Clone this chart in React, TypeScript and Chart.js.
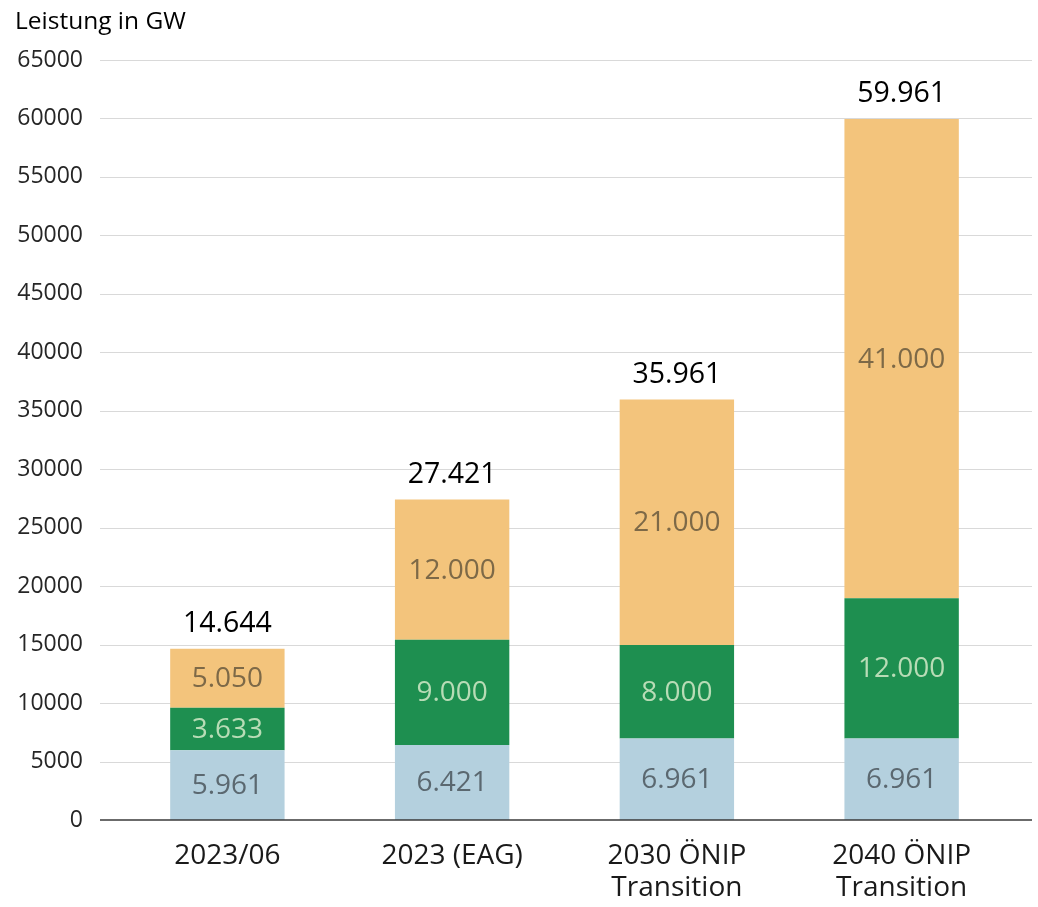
import React, { useEffect, useRef } from "react";
import { Chart, registerables } from "chart.js";

Chart.register(...registerables);

const categories: (string | string[])[] = [
  "2023/06",
  "2023 (EAG)",
  ["2030 ÖNIP", "Transition"],
  ["2040 ÖNIP", "Transition"],
];
const seriesBlue = [5961, 6421, 6961, 6961];
const seriesGreen = [3633, 9000, 8000, 12000];
const seriesOrange = [5050, 12000, 21000, 41000];
const yMin = 0;
const yMax = 65000;
const yStep = 5000;
const titleText = "Leistung in GW";

const FONT = "'Open Sans', 'Noto Sans', sans-serif";

const fmt = (n: number) =>
  String(Math.round(n)).replace(/\B(?=(\d{3})+(?!\d))/g, ".");

const gridPlugin = {
  id: "extGrid",
  beforeDatasetsDraw(chart: any) {
    const { ctx, chartArea } = chart;
    const y = chart.scales.y;
    ctx.save();
    y.ticks.forEach((t: any) => {
      const py = Math.round(y.getPixelForValue(t.value)) + 0.5;
      if (t.value === 0) return;
      ctx.strokeStyle = "#d9d9d9";
      ctx.lineWidth = 1;
      ctx.beginPath();
      ctx.moveTo(chartArea.left - 15, py);
      ctx.lineTo(chartArea.right + 18, py);
      ctx.stroke();
    });
    ctx.restore();
  },
  afterDatasetsDraw(chart: any) {
    const { ctx, chartArea } = chart;
    const y = chart.scales.y;
    const py = y.getPixelForValue(0);
    ctx.save();
    ctx.strokeStyle = "#3a3a3a";
    ctx.lineWidth = 1.5;
    ctx.beginPath();
    ctx.moveTo(chartArea.left - 15, py);
    ctx.lineTo(chartArea.right + 18, py);
    ctx.stroke();
    ctx.restore();
  },
};

const labelColors = ["#5b6870", "#b8dcb6", "#7d6947"];

const labelPlugin = {
  id: "segLabels",
  afterDatasetsDraw(chart: any) {
    const { ctx } = chart;
    ctx.save();
    ctx.textAlign = "center";
    ctx.textBaseline = "middle";
    const n = chart.data.datasets.length;
    chart.data.datasets.forEach((ds: any, di: number) => {
      const meta = chart.getDatasetMeta(di);
      ctx.font = `28px ${FONT}`;
      ctx.fillStyle = labelColors[di];
      meta.data.forEach((bar: any, i: number) => {
        const p = bar.getProps(["x", "y", "base"], true);
        ctx.fillText(fmt(ds.data[i]), p.x, (p.y + p.base) / 2 + 1);
      });
    });
    const last = chart.getDatasetMeta(n - 1);
    ctx.font = `28.5px ${FONT}`;
    ctx.fillStyle = "#000000";
    last.data.forEach((bar: any, i: number) => {
      let total = 0;
      chart.data.datasets.forEach((ds: any) => (total += ds.data[i]));
      const p = bar.getProps(["x", "y"], true);
      ctx.fillText(fmt(total), p.x, p.y - 25);
    });
    ctx.restore();
  },
};

export default function App() {
  const ref = useRef<HTMLCanvasElement | null>(null);
  useEffect(() => {
    if (!ref.current) return;
    const chart = new Chart(ref.current, {
      type: "bar",
      data: {
        labels: categories as any,
        datasets: [
          { label: "A", data: seriesBlue, backgroundColor: "#b4d0de" },
          { label: "B", data: seriesGreen, backgroundColor: "#1e8f50" },
          { label: "C", data: seriesOrange, backgroundColor: "#f3c47c" },
        ],
      },
      options: {
        animation: false,
        responsive: true,
        maintainAspectRatio: false,
        layout: { padding: { left: 15, right: 24, top: 0, bottom: 0 } },
        datasets: {
          bar: { categoryPercentage: 1, barPercentage: 0.509 },
        } as any,
        plugins: {
          legend: { display: false },
          tooltip: { enabled: false },
          title: {
            display: true,
            text: titleText,
            align: "start",
            color: "#000000",
            font: { family: FONT, size: 24.5, weight: "normal" as any, lineHeight: 1.2 },
            padding: { top: 7, bottom: 23.6 },
          },
        },
        scales: {
          x: {
            stacked: true,
            grid: { display: false, drawTicks: false },
            border: { display: false },
            ticks: {
              color: "#1a1a1a",
              font: { family: FONT, size: 28, lineHeight: 1.14 },
              padding: 20,
              maxRotation: 0,
              autoSkip: false,
            },
            afterFit: (s: any) => {
              s.height = 87;
            },
          },
          y: {
            stacked: true,
            min: yMin,
            max: yMax,
            grid: { display: false, drawTicks: false },
            border: { display: false },
            ticks: {
              stepSize: yStep,
              color: "#262626",
              font: { family: FONT, size: 23 },
              padding: 32,
              callback: (v: any) => String(v),
            },
            afterFit: (s: any) => {
              s.width = 100;
            },
          },
        },
      },
      plugins: [gridPlugin, labelPlugin],
    });
    return () => chart.destroy();
  }, []);
  return (
    <div style={{ position: "absolute", left: 0, top: 0, width: 1038, height: 907 }}>
      <canvas ref={ref} />
    </div>
  );
}
